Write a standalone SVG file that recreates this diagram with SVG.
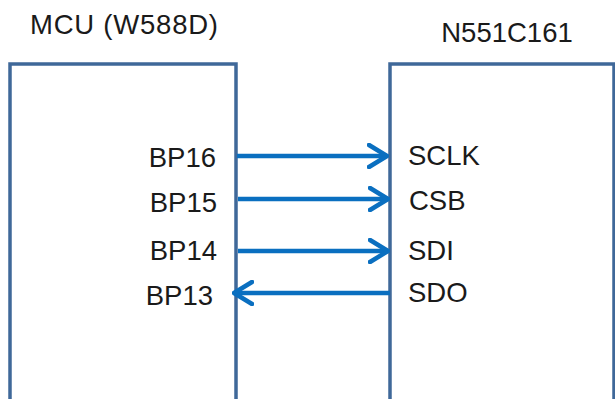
<svg xmlns="http://www.w3.org/2000/svg" width="615" height="399" viewBox="0 0 615 399">
<style>
.box{fill:#fff;stroke:#3f6899;stroke-width:3.5}
.lbl{font-family:"Liberation Sans",Arial,sans-serif;font-size:27.5px;fill:#1a1a1a}
.wire{fill:none;stroke:#0a6fc0;stroke-width:4.5}
</style>
<defs>
<marker id="ah" viewBox="0 0 22 26" refX="20" refY="13" markerWidth="22" markerHeight="26" markerUnits="userSpaceOnUse" orient="auto">
<path d="M2,2 L20,13 L2,24" fill="none" stroke="#0a6fc0" stroke-width="4.5" stroke-linecap="round" stroke-linejoin="round"/>
</marker>
</defs>
<rect width="615" height="399" fill="#fff"/>
<g id="mcu">
<path class="box" d="M10,410 V64 H236 V410"/>
<text class="lbl" x="124" y="34" text-anchor="middle" textLength="188" lengthAdjust="spacing">MCU (W588D)</text>
<text class="lbl" x="216" y="167" text-anchor="end">BP16</text>
<text class="lbl" x="217" y="212" text-anchor="end">BP15</text>
<text class="lbl" x="217" y="260" text-anchor="end">BP14</text>
<text class="lbl" x="213" y="305" text-anchor="end">BP13</text>
</g>
<g id="n551">
<path class="box" d="M390,410 V64 H614 V410"/>
<text class="lbl" x="507" y="42" text-anchor="middle">N551C161</text>
<text class="lbl" x="408" y="165">SCLK</text>
<text class="lbl" x="409" y="210">CSB</text>
<text class="lbl" x="408" y="260">SDI</text>
<text class="lbl" x="408" y="302">SDO</text>
</g>
<g id="connectors">
<line class="wire" x1="237" y1="156" x2="387" y2="156" marker-end="url(#ah)"/>
<line class="wire" x1="238" y1="199" x2="388" y2="199" marker-end="url(#ah)"/>
<line class="wire" x1="238" y1="251" x2="388" y2="251" marker-end="url(#ah)"/>
<line class="wire" x1="390" y1="293" x2="234" y2="293" marker-end="url(#ah)"/>
</g>
</svg>
